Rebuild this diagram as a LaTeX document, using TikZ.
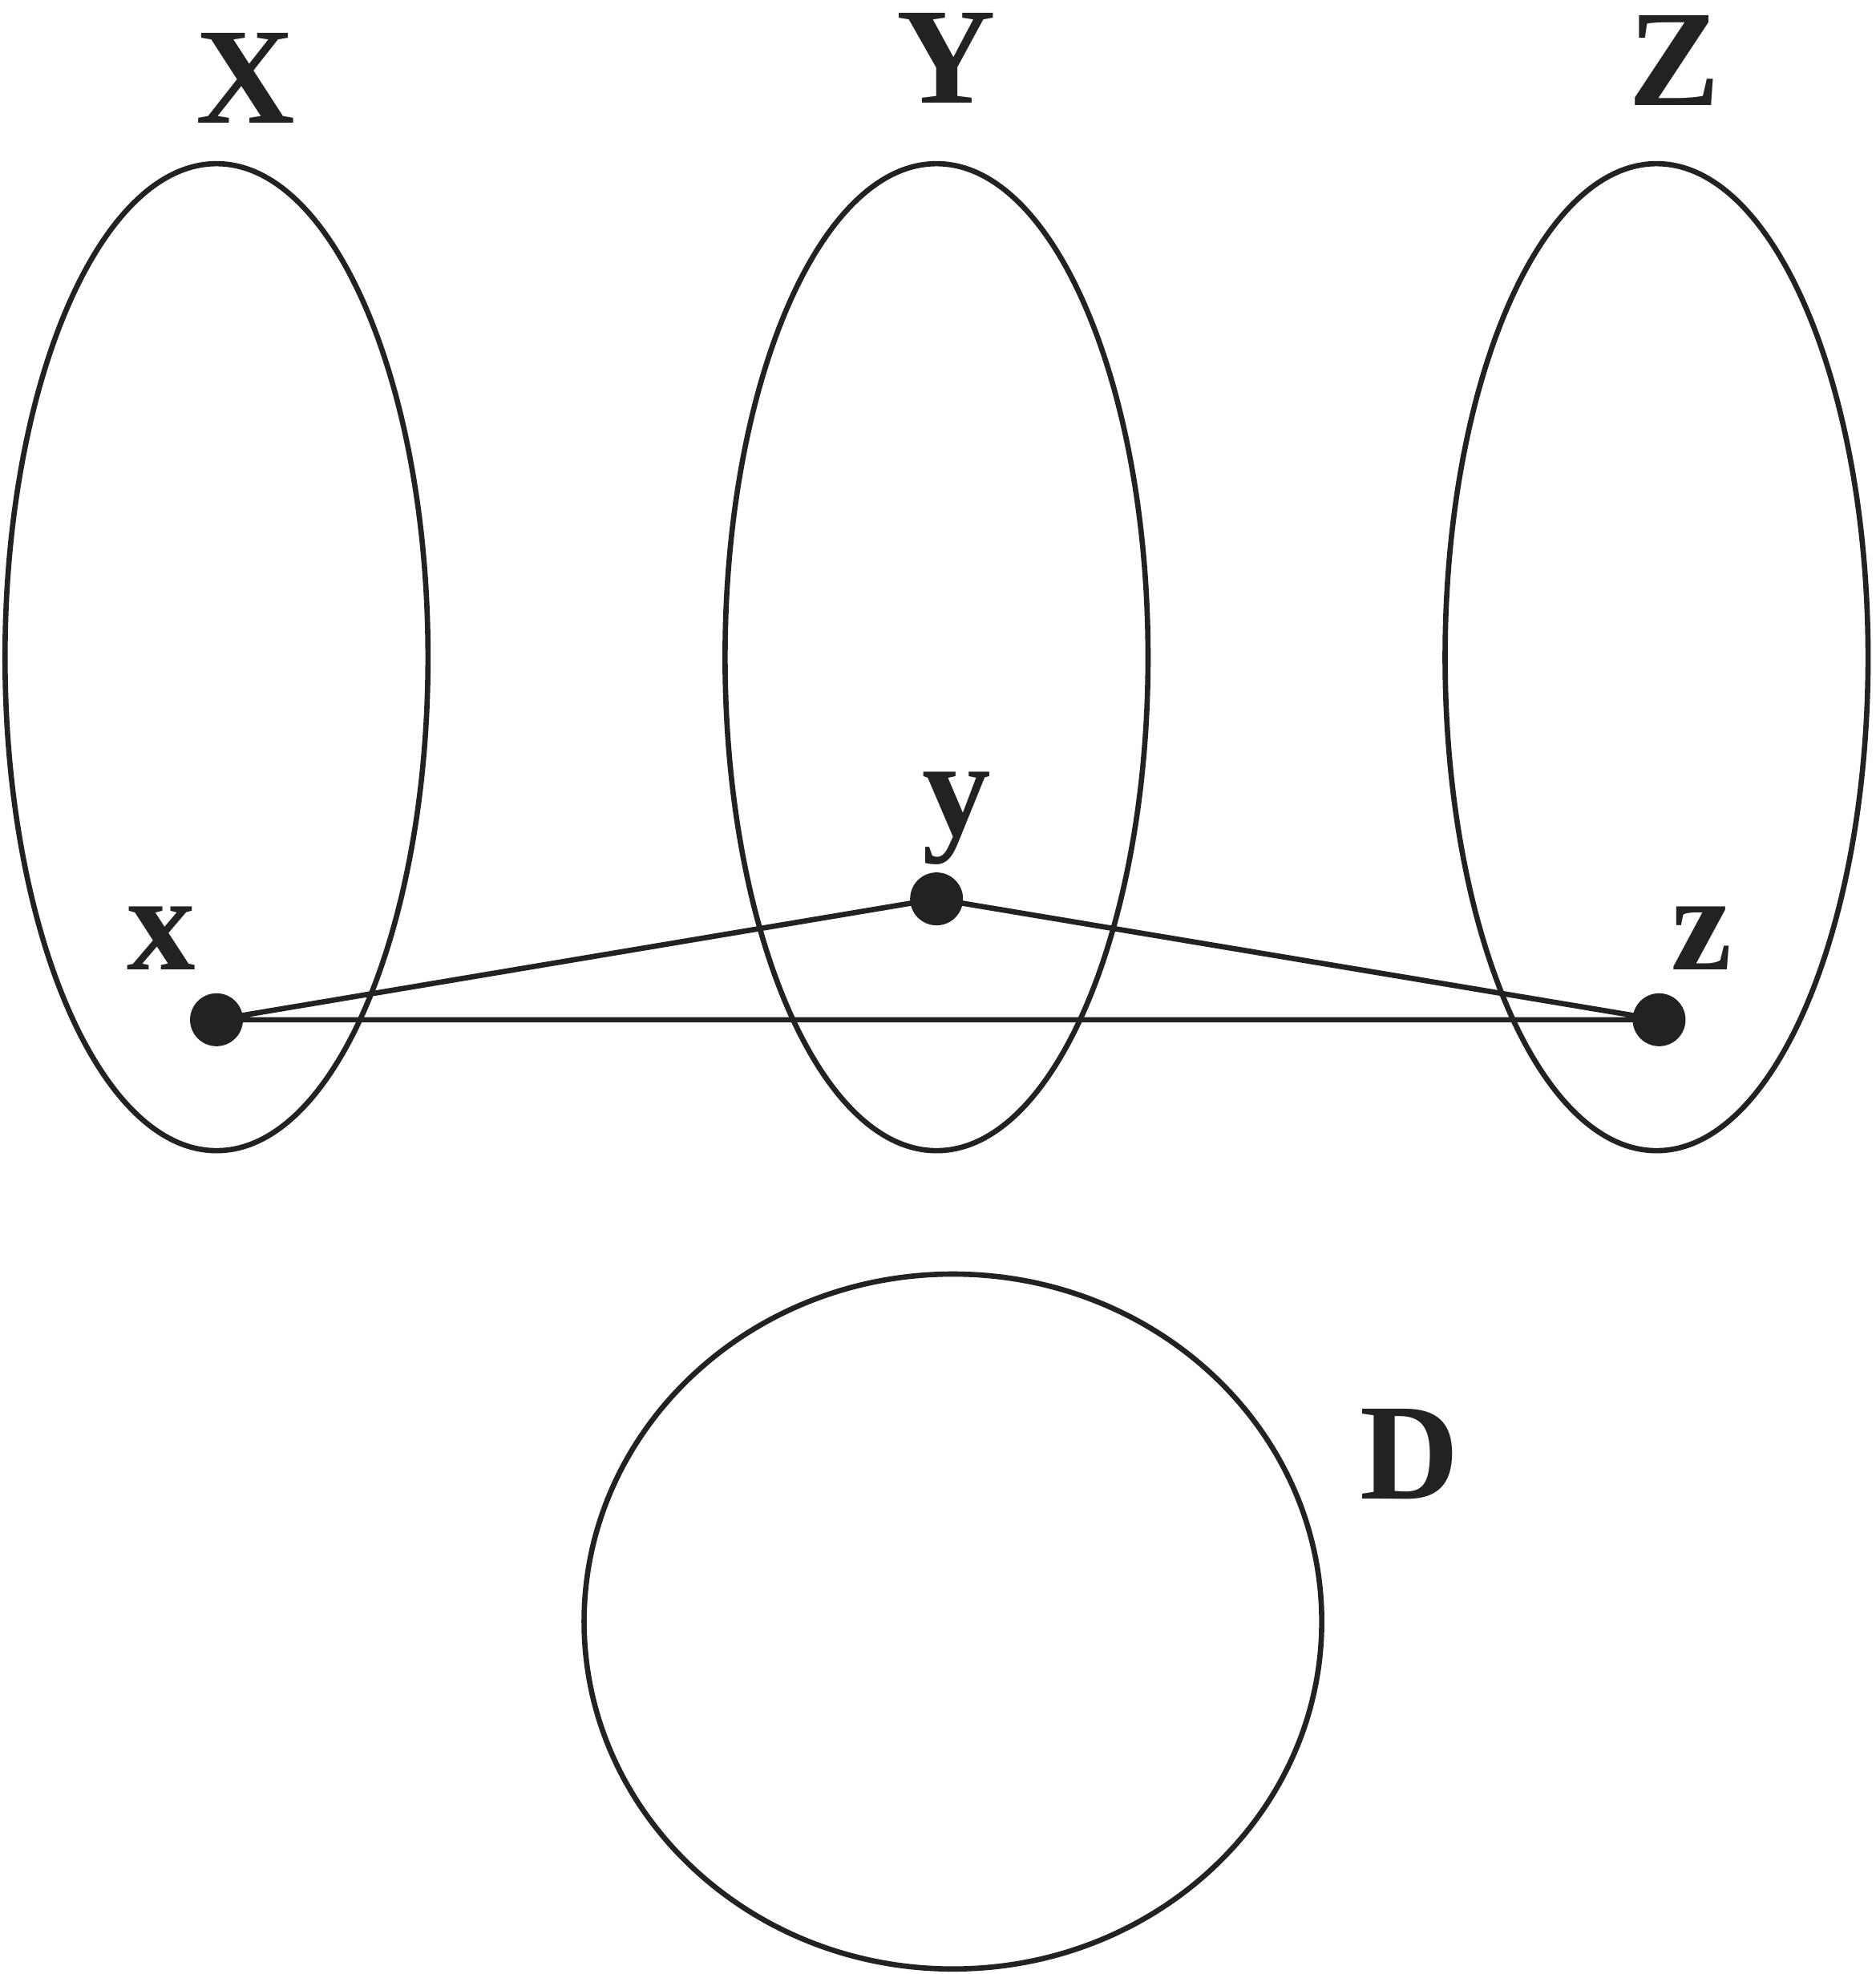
\documentclass[tikz,border=0pt]{standalone}
\usepackage{fontspec}
\setmainfont{Liberation Serif}[BoldFont={Liberation Serif Bold}]
\definecolor{ink}{HTML}{222222}
\begin{document}
\begin{tikzpicture}[x=0.01cm,y=-0.01cm,
  set/.style={draw=ink,line width=1.2pt},
  lbl/.style={text=ink,font=\fontsize{31}{31}\selectfont\bfseries,inner sep=0pt},
  pt/.style={circle,fill=ink,minimum size=0.42cm,inner sep=0pt},
  edge/.style={draw=ink,line width=1.2pt}]
\useasboundingbox (0,0) rectangle (1490,1568);
\draw[set] (172,522) ellipse [x radius=168, y radius=392];
\draw[set] (744,522) ellipse [x radius=168, y radius=392];
\draw[set] (1316,522) ellipse [x radius=168, y radius=392];
\draw[set] (757,1288) ellipse [x radius=293, y radius=276];
\node[pt] (x) at (172,810) {};
\node[pt] (y) at (744,714) {};
\node[pt] (z) at (1318,810) {};
\draw[edge] (x.center) -- (y.center) -- (z.center) -- (x.center);
\node[lbl] (lX) at (195,62) {X};
\node[lbl] (lY) at (752,46) {Y};
\node[lbl] (lZ) at (1330,48) {Z};
\node[lbl] (lx) at (128,745) {x};
\node[lbl] (ly) at (760,650) {y};
\node[lbl] (lz) at (1352,745) {z};
\node[lbl] (lD) at (1120,1155) {D};
\end{tikzpicture}
\end{document}
